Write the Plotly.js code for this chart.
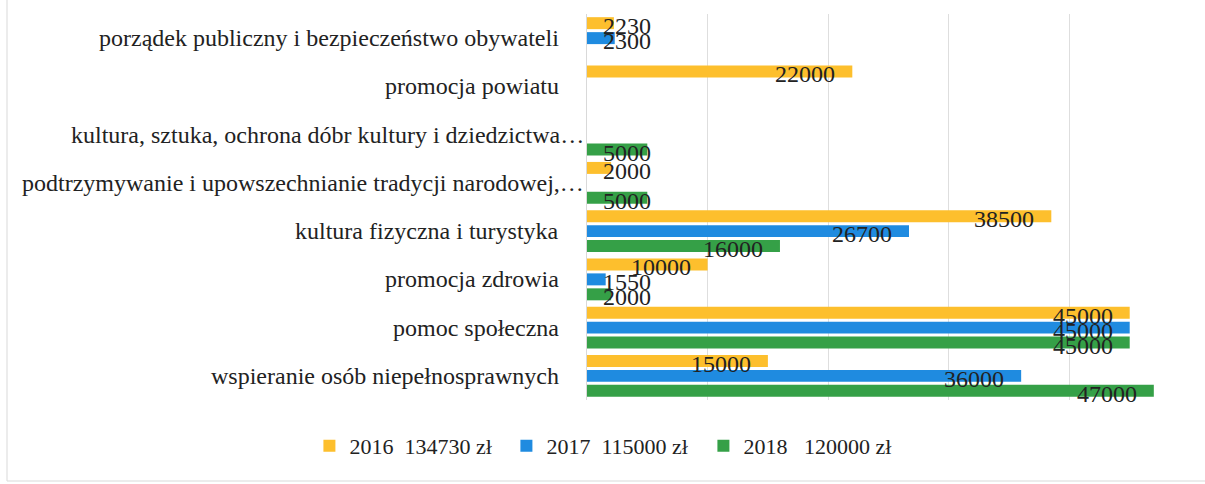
<!DOCTYPE html>
<html>
<head>
<meta charset="utf-8">
<script src="https://cdn.plot.ly/plotly-3.0.1.min.js"></script>
</head>
<body style="margin:0">
<div id="chart" style="width:1205px;height:484px"></div>
<script>
// Categories listed top to bottom as in the reference
var categories = [
  "porządek publiczny i bezpieczeństwo obywateli",
  "promocja powiatu",
  "kultura, sztuka, ochrona dóbr kultury i dziedzictwa…",
  "podtrzymywanie i upowszechnianie tradycji narodowej,…",
  "kultura fizyczna i turystyka",
  "promocja zdrowia",
  "pomoc społeczna",
  "wspieranie osób niepełnosprawnych"
];
var seriesNames = ["2016 \u00a0134730 zł", "2017 \u00a0115000 zł", "2018 \u00a0\u00a0120000 zł"];
var v2016 = [2230, 22000, null, 2000, 38500, 10000, 45000, 15000];
var v2017 = [2300, null, null, null, 26700, 1550, 45000, 36000];
var v2018 = [null, null, 5000, 5000, 16000, 2000, 45000, 47000];
var xTicks = [0, 10000, 20000, 30000, 40000, 50000];

var colors = ["#FDBF2D", "#1F8BE0", "#35A047"];
var fontFam = "Times New Roman";
var series = [v2016, v2017, v2018];

var W = 1205, H = 484;
var margin = {l: 587, r: 15, t: 14, b: 84};
var xMax = xTicks[xTicks.length - 1];
var pxPer = (W - margin.l - margin.r) / xMax;
var bargap = 0.07, bargroupgap = 0.2;
var fs = 24, legFs = 22;
var txtCol = "#222222";

var traces = series.map(function (vals, i) {
  return {
    type: "bar", orientation: "h",
    name: seriesNames[i],
    y: categories, x: vals,
    marker: {color: colors[i]},
    hoverinfo: "x+name"
  };
});

var annotations = [];
// value labels
series.forEach(function (vals, i) {
  var slot = (1 - bargap) / series.length;
  var off = -(1 - bargap) / 2 + (i + 0.5) * slot;
  vals.forEach(function (v, k) {
    if (v === null) return;
    var txt = String(v);
    var w = txt.length * 0.5 * fs;
    var endPx = v * pxPer;
    var a = {
      xref: "x", yref: "y", y: k + off, text: txt, showarrow: false,
      font: {family: fontFam, size: fs, color: txtCol}, yshift: -3
    };
    if (endPx - 17 - w >= 16) { a.x = v; a.xanchor = "right"; a.xshift = -15; }
    else { a.x = 0; a.xanchor = "left"; a.xshift = 14; }
    annotations.push(a);
  });
});
// category labels
categories.forEach(function (c, k) {
  var ell = c.charAt(c.length - 1) === "…";
  annotations.push({
    xref: "paper", yref: "y", x: 0, y: k, text: c, showarrow: false,
    xanchor: "right", xshift: ell ? -1 : -26,
    font: {family: fontFam, size: fs, color: txtCol}
  });
});

var layout = {
  width: W, height: H, margin: margin,
  font: {family: fontFam, size: fs, color: txtCol},
  paper_bgcolor: "#ffffff", plot_bgcolor: "#ffffff",
  barmode: "group", bargap: bargap, bargroupgap: bargroupgap,
  showlegend: true,
  legend: {
    orientation: "h", xref: "container", yref: "container",
    x: 0.502, xanchor: "center", y: 38 / H, yanchor: "middle",
    font: {family: fontFam, size: legFs, color: txtCol},
    itemwidth: 30, entrywidth: 152, traceorder: "normal"
  },
  xaxis: {
    range: [0, xMax], tickvals: xTicks, showticklabels: false,
    showgrid: true, gridcolor: "#dedede", gridwidth: 1,
    zeroline: false, showline: false, fixedrange: true
  },
  yaxis: {
    type: "category", categoryorder: "array", categoryarray: categories,
    range: [categories.length - 0.5, -0.5], showticklabels: false, showgrid: false,
    showline: true, linecolor: "#d9d9d9", linewidth: 1, zeroline: false, fixedrange: true
  },
  shapes: [{
    type: "rect", xref: "paper", yref: "paper",
    x0: -580 / (W - margin.l - margin.r), x1: 1.2,
    y0: -(H - margin.t - margin.b + 0) / (H - margin.t - margin.b) * 0 - (margin.b - 3) / (H - margin.t - margin.b), y1: 1.2,
    line: {color: "#d9d9d9", width: 1}, fillcolor: "rgba(0,0,0,0)", layer: "below"
  }],
  annotations: annotations
};

Plotly.newPlot("chart", traces, layout, {displayModeBar: false});
</script>
</body>
</html>
